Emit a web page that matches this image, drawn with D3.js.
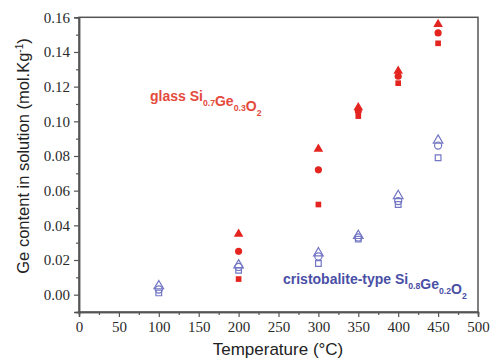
<!DOCTYPE html>
<html>
<head>
<meta charset="utf-8">
<script src="https://cdn.jsdelivr.net/npm/d3@7"></script>
<style>
  body { margin: 0; background: #fff; }
  svg text { fill: #222; }
</style>
</head>
<body>
<svg id="chart" width="491" height="361"></svg>
<script>
// temperatures (°C)
const glassTemps = [200, 300, 350, 400, 450];
const glassTri = [0.035, 0.084, 0.108, 0.129, 0.156];
const glassCirc = [0.025, 0.072, 0.106, 0.126, 0.151];
const glassSq = [0.009, 0.052, 0.103, 0.122, 0.145];

const cristTemps = [100, 200, 300, 350, 400, 450];
const cristTri = [0.005, 0.017, 0.024, 0.034, 0.057, 0.089];
const cristCirc = [0.003, 0.016, 0.022, 0.033, 0.054, 0.086];
const cristSq = [0.001, 0.014, 0.018, 0.032, 0.052, 0.079];

const xTicks = [0, 50, 100, 150, 200, 250, 300, 350, 400, 450, 500];
const yTicks = [0, 0.02, 0.04, 0.06, 0.08, 0.10, 0.12, 0.14, 0.16];

const red = '#e3241f';
const blue = '#7377c4';
const sans = '"Liberation Sans", Arial, sans-serif';
const serif = '"Liberation Serif", "DejaVu Serif", serif';

const svg = d3.select('#chart');
const x = d3.scaleLinear().domain([0, 500]).range([79, 478]);
const y = d3.scaleLinear().domain([-0.01, 0.16]).range([312, 17.3]);

// frame
svg.append('rect')
  .attr('x', 79).attr('y', 17.3)
  .attr('width', 478 - 79).attr('height', 312 - 17.3)
  .attr('fill', 'none').attr('stroke', '#555').attr('stroke-width', 1.5);

let xAxis = svg.append('g')
  .attr('transform', 'translate(0,312)')
  .call(d3.axisBottom(x).tickValues(xTicks).tickSize(5).tickPadding(4));
xAxis.append('g').call(d3.axisBottom(x).tickValues(d3.range(25, 500, 50)).tickSize(3).tickFormat(''));

let yAxis = svg.append('g')
  .attr('transform', 'translate(79,0)')
  .call(d3.axisLeft(y).tickValues(yTicks).tickSize(5).tickPadding(4).tickFormat(d3.format('.2f')));
yAxis.append('g').call(d3.axisLeft(y).tickValues(d3.range(-0.01, 0.16, 0.02)).tickSize(3).tickFormat(''));

svg.selectAll('.domain').attr('stroke', '#555').attr('stroke-width', 1.5);
svg.selectAll('.tick line').attr('stroke', '#555').attr('stroke-width', 1.2);
xAxis.attr('font-family', null);
yAxis.attr('font-family', null);
svg.selectAll('.tick text')
  .attr('font-family', serif)
  .attr('font-size', 15)
  .style('fill', '#2a2a2a');

// markers
const sym = t => d3.symbol().type(t).size(40)();
const sqSym = d3.symbol().type(d3.symbolSquare).size(32)();

function plot(temps, vals, path, filled, color) {
  svg.append('g').selectAll('path')
    .data(temps.map((t, i) => [t, vals[i]]))
    .join('path')
    .attr('transform', d => `translate(${x(d[0])},${y(d[1])})`)
    .attr('d', path)
    .attr('fill', filled ? color : 'none')
    .attr('stroke', filled ? 'none' : color)
    .attr('stroke-width', 1.2);
}

plot(cristTemps, cristSq, sqSym, false, blue);
plot(cristTemps, cristCirc, sym(d3.symbolCircle), false, blue);
plot(cristTemps, cristTri, sym(d3.symbolTriangle), false, blue);
plot(glassTemps, glassSq, sqSym, true, red);
plot(glassTemps, glassCirc, sym(d3.symbolCircle), true, red);
plot(glassTemps, glassTri, sym(d3.symbolTriangle), true, red);

// annotations
function label(xp, yp, color, size, parts) {
  let t = svg.append('text')
    .attr('x', xp).attr('y', yp)
    .style('font-family', sans)
    .style('font-weight', 'bold')
    .style('font-size', size + 'px')
    .style('fill', color);
  parts.forEach(p => {
    if (p.sub) {
      t.append('tspan').attr('dy', 5).style('font-size', (size * 0.62) + 'px').text(p.sub);
      t.append('tspan').attr('dy', -5).text('');
    } else {
      t.append('tspan').text(p.t);
    }
  });
}
label(150, 101, '#e44a3c', 14, [{ t: 'glass Si' }, { sub: '0.7' }, { t: 'Ge' }, { sub: '0.3' }, { t: 'O' }, { sub: '2' }]);
label(283, 284, '#4a4fa6', 14, [{ t: 'cristobalite-type Si' }, { sub: '0.8' }, { t: 'Ge' }, { sub: '0.2' }, { t: 'O' }, { sub: '2' }]);

// axis titles
svg.append('text')
  .attr('x', 278).attr('y', 355)
  .attr('text-anchor', 'middle')
  .style('font-family', sans)
  .style('font-size', '17px')
  .text('Temperature (°C)');

let yt = svg.append('text')
  .attr('transform', 'translate(29,156) rotate(-90)')
  .attr('text-anchor', 'middle')
  .style('font-family', sans)
  .style('font-size', '16.5px');
yt.append('tspan').text('Ge content in solution (mol.Kg');
yt.append('tspan').attr('dy', -6).style('font-size', '10px').text('-1');
yt.append('tspan').attr('dy', 6).text(')');
</script>
</body>
</html>
